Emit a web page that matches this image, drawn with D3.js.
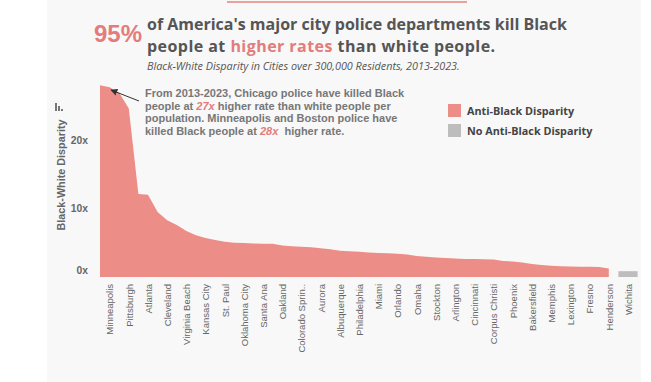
<!DOCTYPE html>
<html>
<head>
<meta charset="utf-8">
<script src="https://cdn.jsdelivr.net/npm/d3@7"></script>
<style>
  body { margin: 0; background: #ffffff; }
  svg { display: block; }
</style>
</head>
<body>
<svg width="651" height="382"></svg>
<script>
// cities ranked by disparity; only every other name fits under the axis
var cities = ["Boston", "Minneapolis", "Chicago", "Pittsburgh", "St. Louis", "Atlanta",
  "Baltimore", "Cleveland", "Washington", "Virginia Beach", "New Orleans", "Kansas City",
  "Milwaukee", "St. Paul", "Tulsa", "Oklahoma City", "Louisville", "Santa Ana",
  "Columbus", "Oakland", "Indianapolis", "Colorado Springs", "Denver", "Aurora",
  "Los Angeles", "Albuquerque", "Houston", "Philadelphia", "Dallas", "Miami",
  "Fort Worth", "Orlando", "San Antonio", "Omaha", "Jacksonville", "Stockton",
  "Tampa", "Arlington", "Charlotte", "Cincinnati", "Nashville", "Corpus Christi",
  "Las Vegas", "Phoenix", "Sacramento", "Bakersfield", "San Diego", "Memphis",
  "Tucson", "Lexington", "Mesa", "Fresno", "Austin", "Henderson",
  "El Paso", "Wichita", "Anaheim"];

// Black-white disparity (x times), Anti-Black cities first
var antiBlack = [28.0, 27.7, 26.9, 24.6, 12.1, 12.0, 9.5, 8.3, 7.6, 6.7,
  6.1, 5.7, 5.4, 5.15, 5.0, 4.95, 4.9, 4.86, 4.85, 4.6,
  4.5, 4.42, 4.35, 4.2, 4.05, 3.85, 3.75, 3.68, 3.56, 3.5,
  3.45, 3.4, 3.3, 3.07, 2.95, 2.85, 2.77, 2.69, 2.63, 2.61,
  2.6, 2.57, 2.34, 2.26, 2.12, 1.9, 1.75, 1.64, 1.56, 1.52,
  1.5, 1.5, 1.47, 1.24];
var noAntiBlack = [0.85, 0.85, 0.85];

var yTicks = [0, 10, 20];
var legendItems = ["Anti-Black Disparity", "No Anti-Black Disparity"];

var pink = "#ec8e87";
var grey = "#bdbdbd";
var svg = d3.select("svg");

// background panel + top rule
svg.append("rect").attr("x", 47).attr("y", 0).attr("width", 594).attr("height", 382).attr("fill", "#f8f8f8");
svg.append("rect").attr("x", 227).attr("y", 1).attr("width", 240).attr("height", 2).attr("fill", "#eba19b");

var x = d3.scalePoint().domain(cities).range([100, 637.6]);
var y = d3.scaleLinear().domain([0, 20]).range([277, 140]);

var antiData = antiBlack.map(function(v, i) { return {c: cities[i], v: v}; });
var noData = noAntiBlack.map(function(v, i) { return {c: cities[antiBlack.length + i], v: v}; });

var area = d3.area()
  .x(function(d) { return x(d.c); })
  .y0(y(0))
  .y1(function(d) { return y(d.v); });

svg.append("path").attr("d", area(antiData)).attr("fill", pink);
svg.append("path").attr("d", area(noData)).attr("fill", grey);

// y axis (labels only)
var yAxis = svg.append("g")
  .attr("transform", "translate(88,0)")
  .call(d3.axisLeft(y).tickValues(yTicks).tickSize(0).tickPadding(0).tickFormat(function(d) { return d + "x"; }));
yAxis.select(".domain").remove();
yAxis.selectAll("text")
  .attr("font-family", "Arial, 'Liberation Sans', sans-serif")
  .attr("font-weight", "bold").attr("font-size", "10.3px").attr("fill", "#666")
  .attr("dy", function(d) { return d === 0 ? "-0.3em" : "0.32em"; });

svg.append("text")
  .attr("transform", "translate(64.5,175) rotate(-90)")
  .attr("text-anchor", "middle")
  .attr("font-family", "Arial, 'Liberation Sans', sans-serif")
  .attr("font-weight", "bold").attr("font-size", "10.8px").attr("fill", "#666")
  .text("Black-White Disparity");

// small sort icon above the axis title
var icon = svg.append("g").attr("fill", "#777");
icon.append("rect").attr("x", 55).attr("y", 103).attr("width", 2).attr("height", 8);
icon.append("rect").attr("x", 58).attr("y", 106).attr("width", 2).attr("height", 5);
icon.append("rect").attr("x", 61).attr("y", 109).attr("width", 2).attr("height", 2);

// x axis: every other city
var xAxis = svg.append("g")
  .attr("transform", "translate(0,283)")
  .call(d3.axisBottom(x)
    .tickValues(cities.filter(function(c, i) { return i % 2 === 1; }))
    .tickSize(0)
    .tickFormat(function(c) { return c.length > 14 ? c.slice(0, 14) + ".." : c; }));
xAxis.select(".domain").remove();
xAxis.selectAll("text")
  .attr("transform", "rotate(-90)")
  .attr("text-anchor", "end")
  .attr("x", 0).attr("y", 0).attr("dx", "-0.1em").attr("dy", "0.35em")
  .attr("font-family", "Arial, 'Liberation Sans', sans-serif")
  .attr("font-size", "9.5px").attr("fill", "#666");

// title block
svg.append("text").attr("x", 94).attr("y", 42)
  .attr("font-family", "Arial, 'Liberation Sans', sans-serif").attr("font-weight", "bold")
  .attr("font-size", "24px").attr("fill", "#e27d7c").text("95%");

var titleFont = "'Open Sans', sans-serif";
var title = svg.append("text")
  .attr("font-family", titleFont).attr("font-weight", "bold").attr("font-size", "16px").attr("fill", "#555");
title.append("tspan").attr("x", 147).attr("y", 30)
  .text("of America's major city police departments kill Black");
var t2 = title.append("tspan").attr("x", 147).attr("y", 51.8).attr("letter-spacing", "0.45px");
t2.append("tspan").text("people at ");
t2.append("tspan").attr("fill", "#e27d7c").text("higher rates");
t2.append("tspan").text(" than white people.");

svg.append("text").attr("x", 147).attr("y", 69.5)
  .attr("font-family", titleFont).attr("font-style", "italic").attr("font-size", "10.8px").attr("fill", "#555")
  .text("Black-White Disparity in Cities over 300,000 Residents, 2013-2023.");

// annotation
var noteLines = [
  [["From 2013-2023, Chicago police have killed Black", false]],
  [["people at ", false], ["27x", true], [" higher rate than white people per", false]],
  [["population. Minneapolis and Boston police have", false]],
  [["killed Black people at ", false], ["28x", true], ["  higher rate.", false]]
];
var note = svg.append("g")
  .attr("font-family", "Arial, 'Liberation Sans', sans-serif")
  .attr("font-weight", "bold").attr("font-size", "11px").attr("fill", "#777");
noteLines.forEach(function(line, i) {
  var t = note.append("text").attr("x", 145).attr("y", 97 + i * 12.7).attr("xml:space", "preserve");
  line.forEach(function(part) {
    var s = t.append("tspan").text(part[0]);
    if (part[1]) s.attr("fill", "#e27d7c").attr("font-style", "italic");
  });
});

svg.append("defs").append("marker")
  .attr("id", "arr").attr("viewBox", "0 0 10 10").attr("refX", 9).attr("refY", 5)
  .attr("markerWidth", 7).attr("markerHeight", 7).attr("orient", "auto")
  .append("path").attr("d", "M0,0L10,5L0,10z").attr("fill", "#333");
svg.append("line").attr("x1", 139).attr("y1", 101).attr("x2", 111).attr("y2", 90)
  .attr("stroke", "#333").attr("stroke-width", 1).attr("marker-end", "url(#arr)");

// legend
var legend = svg.append("g").attr("transform", "translate(448,104)");
legendItems.forEach(function(name, i) {
  var g = legend.append("g").attr("transform", "translate(0," + i * 20 + ")");
  g.append("rect").attr("width", 13).attr("height", 13).attr("fill", i === 0 ? pink : grey);
  g.append("text").attr("x", 19).attr("y", 11)
    .attr("font-family", titleFont).attr("font-weight", "bold").attr("font-size", "10.8px").attr("fill", "#444")
    .text(name);
});
</script>
</body>
</html>
